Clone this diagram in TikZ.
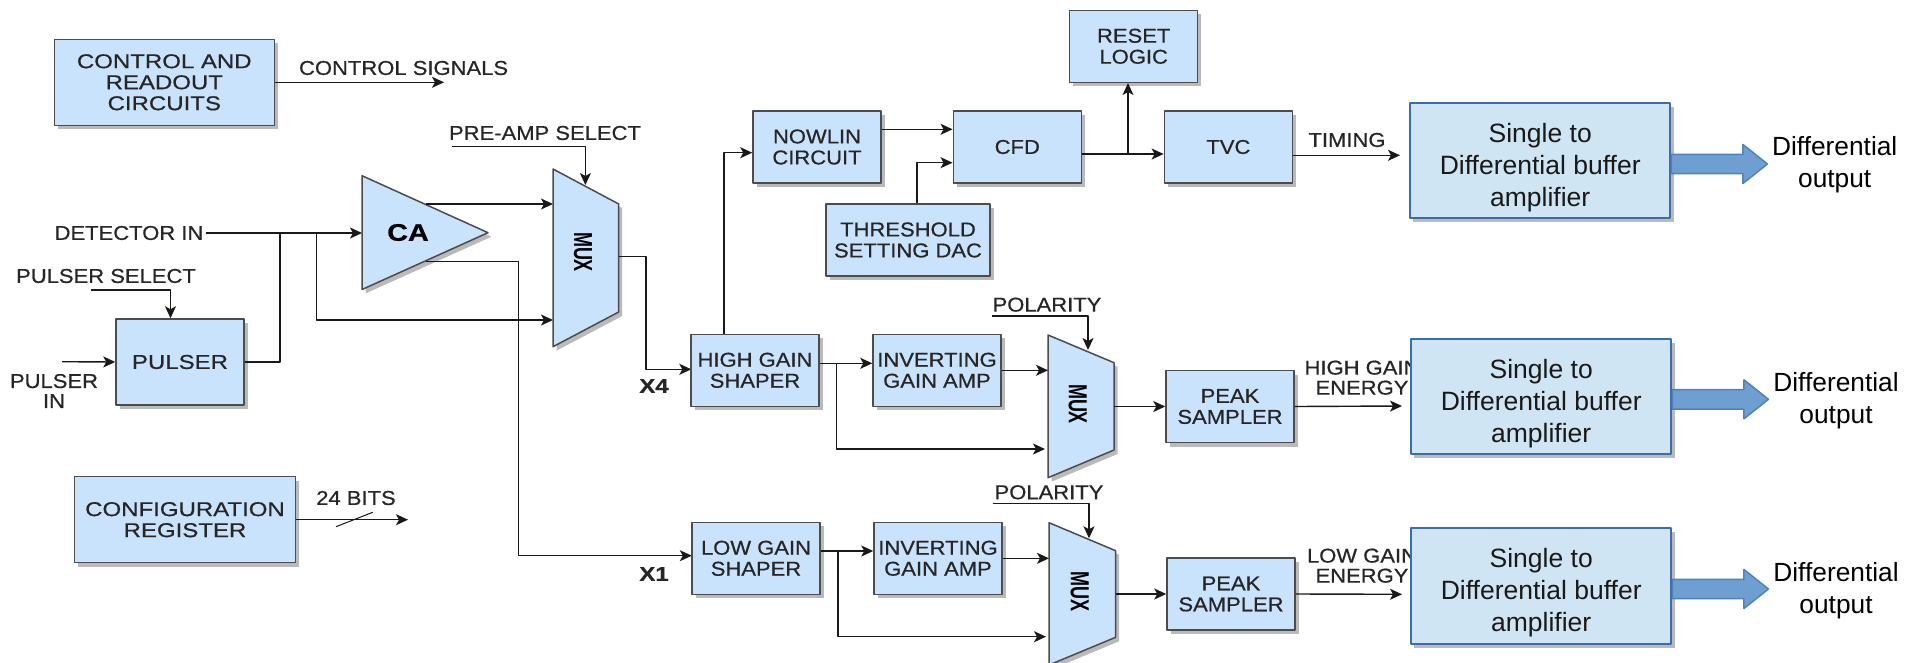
\documentclass[tikz,border=0pt]{standalone}
\usepackage{fontspec}
\usetikzlibrary{arrows.meta,shadows}
\setmainfont{Liberation Sans}
\newfontfamily\blockfont[FakeStretch=1.2,FakeBold=0.6]{Liberation Sans}
\newfontfamily\signalfont[FakeStretch=1.1,FakeBold=0.6]{Liberation Sans}
\definecolor{blockfill}{HTML}{C9E3FD}
\definecolor{bufferfill}{HTML}{CFE5F3}
\definecolor{bufferline}{HTML}{3A6CB0}
\definecolor{arrowfill}{HTML}{6F9FD0}
\definecolor{arrowline}{HTML}{4F81BD}
\definecolor{inktext}{HTML}{262626}
\tikzset{
	boxshadow/.style={drop shadow={shadow xshift=3.5pt,shadow yshift=-4pt,opacity=1,fill=black!27}},
	blockbox/.style={draw=black!70,line width=1.5pt,fill=blockfill,boxshadow,minimum width=128,minimum height=72,inner sep=0,align=center,text=inktext,font=\signalfont\fontsize{20}{21}\selectfont},
	widetext/.style={font=\blockfont\fontsize{20}{21}\selectfont},
	bufferbox/.style={draw=bufferline,line width=2pt,fill=bufferfill,boxshadow,minimum width=260.5,minimum height=115.5,inner sep=0},
	buffertext/.style={inner sep=0,align=center,text=black!90,font=\fontsize{26.5}{32}\selectfont},
	muxbody/.style={draw=black!70,line width=1.5pt,fill=blockfill,boxshadow,line join=round},
	muxtext/.style={rotate=-90,inner sep=0,text=black,font=\bfseries\fontsize{18}{18}\selectfont},
	siglabel/.style={inner sep=2pt,align=center,text=inktext,font=\signalfont\fontsize{20}{20}\selectfont},
	gainlabel/.style={inner sep=0,text=inktext,font=\bfseries\blockfont\fontsize{20}{20}\selectfont},
	outlabel/.style={inner sep=0,align=center,text=black,font=\fontsize{26.3}{32}\selectfont},
	bigarrow/.style={draw=arrowline,line width=1.5pt,fill=arrowfill},
	wire/.style={draw=black!90,line width=1.4pt}
}
\begin{document}
\begin{tikzpicture}[x=1pt,y=-1pt,>={Stealth[length=12pt,width=11pt,inset=3pt]},line join=round]
	\clip (0,0) rectangle (1907,662);
	% left column
	\node[blockbox,widetext,minimum width=220,minimum height=86] (ctrl) at (164.3,82.3) {CONTROL AND\\READOUT\\CIRCUITS};
	\node[siglabel] (ctrlsig) at (403.6,68) {CONTROL SIGNALS};
	\coordinate (ctrlend) at (444,82.3);
	\draw[wire,->] (ctrl.east) -- (ctrlend);
	\node[blockbox,widetext,minimum height=86] (pulser) at (180,362) {PULSER};
	\node[siglabel] (detin) at (129,233) {DETECTOR IN};
	\node[siglabel] (pulsesel) at (106,276) {PULSER SELECT};
	\node[siglabel] (pulsein) at (54,391) {PULSER\\IN};
	\coordinate (pselstart) at (90.5,290);
	\coordinate (pinstart) at (62,361.7);
	\draw[wire,->] (pselstart) -| (pulser.north -| 170.5,0);
	\draw[wire,->] (pinstart) -- (pulser.west);
	\node[blockbox,widetext,minimum width=220.6,minimum height=86] (config) at (185,519.7) {CONFIGURATION\\REGISTER};
	\node[siglabel] (bits) at (356,498) {24 BITS};
	\coordinate (bitsend) at (408,519.7);
	\draw[wire,->] (config.east) -- (bitsend);
	\draw[draw=black!90,line width=1pt] (336,526.7) -- (372.7,512.3);
	% charge amp and first mux
	\coordinate (catop) at (362,175.7);
	\coordinate (caapex) at (488,232.7);
	\coordinate (cabot) at (362,289.5);
	\draw[muxbody] (catop) -- (caapex) -- (cabot) -- cycle;
	\node[inner sep=0,text=black,font=\bfseries\blockfont\fontsize{24}{24}\selectfont] (ca) at (408,232.5) {CA};
	\foreach \mname/\xl/\xr/\ytl/\ytr/\ybtr/\ybtl in {muxa/553/618.7/169/204/312/346.7,muxb/1048/1114/335/362.7/450/477.7,muxc/1049/1115.6/522.7/550.7/637.3/665}
	{\draw[muxbody] (\xl,\ytl) -- (\xr,\ytr) -- (\xr,\ybtr) -- (\xl,\ybtl) -- cycle;
		\coordinate (\mname-w) at (\xl,\ytl);
		\coordinate (\mname-e) at (\xr,\ytr);}
	\node[muxtext] (muxatext) at (583,252) {\scalebox{1}[1.45]{MUX}};
	\node[muxtext] (muxbtext) at (1077.7,404) {\scalebox{1}[1.45]{MUX}};
	\node[muxtext] (muxctext) at (1079.8,591.7) {\scalebox{1}[1.45]{MUX}};
	\coordinate (jpulse) at (280,233);
	\coordinate (jmux) at (316.5,233);
	\coordinate (caouta) at (426,204);
	\coordinate (caoutb) at (426,261.7);
	\coordinate (xone) at (518.5,555.7);
	\coordinate (muxout) at (646,256.7);
	\node[siglabel] (presel) at (545,133) {PRE-AMP SELECT};
	\coordinate (preselstart) at (452.4,146.7);
	\coordinate (preselend) at (585.4,185);
	\draw[wire,->] (detin.east) -- (catop |- detin.east);
	\draw[wire] (pulser.east) -| (jpulse);
	\draw[wire,->] (jmux) |- (muxa-w |- 0,320);
	\draw[wire,->] (caouta) -- (muxa-w |- caouta);
	\draw[wire,->] (preselstart) -| (preselend);
	\draw[wire,->] (caoutb) -| (xone) -- (691.8,555.7);
	\draw[wire,->] (muxa-e |- muxout) -- (muxout) |- (691.3,369.3);
	\node[gainlabel] (xfour) at (654,386) {X4};
	\node[gainlabel] (xonetext) at (654,574) {X1};
	% timing branch
	\node[blockbox] (nowlin) at (817,147) {NOWLIN\\CIRCUIT};
	\node[blockbox] (cfd) at (1017.3,147) {CFD};
	\node[blockbox] (reset) at (1133.7,46.3) {RESET\\LOGIC};
	\node[blockbox] (tvc) at (1228.4,147) {TVC};
	\node[blockbox,minimum width=164] (thresh) at (908,240) {THRESHOLD\\SETTING DAC};
	\node[blockbox] (hgshaper) at (755,370.3) {HIGH GAIN\\SHAPER};
	\coordinate (jcfd) at (1128,154);
	\draw[wire,->] (nowlin.east |- 0,129.3) -- (cfd.west |- 0,129.3);
	\draw[wire,->] (917,0 |- thresh.north) |- (cfd.west |- 0,162.7);
	\draw[wire,->] (cfd.east |- jcfd) -- (tvc.west |- jcfd);
	\draw[wire,->] (jcfd) -- (jcfd |- reset.south);
	\draw[wire,->] (723.8,0 |- hgshaper.north) |- (nowlin.west |- 0,152.7);
	\node[siglabel] (timing) at (1347,140) {TIMING};
	\coordinate (timingend) at (1400,155.3);
	\draw[wire,->] (tvc.east |- timingend) -- (timingend);
	% high gain branch
	\node[blockbox] (invhi) at (937,370.3) {INVERTING\\GAIN AMP};
	\node[blockbox] (peakhi) at (1230,406.5) {PEAK\\SAMPLER};
	\node[siglabel] (polhi) at (1047,304.7) {POLARITY};
	\coordinate (polhistart) at (992,316);
	\coordinate (polhiend) at (1088,350);
	\coordinate (jhi) at (836.5,363.3);
	\coordinate (energyhi) at (1402,406);
	\draw[wire,->] (polhistart) -| (polhiend);
	\draw[wire,->] (hgshaper.east |- jhi) -- (invhi.west |- jhi);
	\draw[wire,->,shorten >=3pt] (jhi) |- (muxb-w |- 0,449);
	\draw[wire,->] (invhi.east) -- (muxb-w |- invhi.east);
	\draw[wire,->] (muxb-e |- peakhi.west) -- (peakhi.west);
	\draw[wire,->] (peakhi.east) -- (energyhi);
	% low gain branch
	\node[blockbox] (lgshaper) at (756,558.3) {LOW GAIN\\SHAPER};
	\node[blockbox] (invlo) at (938,558.3) {INVERTING\\GAIN AMP};
	\node[blockbox] (peaklo) at (1231,594) {PEAK\\SAMPLER};
	\node[siglabel] (pollo) at (1049,492.3) {POLARITY};
	\coordinate (pollostart) at (992.7,503.7);
	\coordinate (polloend) at (1089,538.3);
	\coordinate (jlo) at (837.8,551);
	\coordinate (energylo) at (1402,594.3);
	\draw[wire,->] (pollostart) -| (polloend);
	\draw[wire,->] (lgshaper.east |- jlo) -- (invlo.west |- jlo);
	\draw[wire,->,shorten >=3pt] (jlo) |- (muxc-w |- 0,636.7);
	\draw[wire,->] (invlo.east) -- (muxc-w |- invlo.east);
	\draw[wire,->] (muxc-e |- peaklo.west) -- (peaklo.west);
	\draw[wire,->] (peaklo.east) -- (energylo);
	% labels run under the buffers, so these come last
	\node[siglabel] (gainhi) at (1362,377.7) {HIGH GAIN\\ENERGY};
	\node[siglabel] (gainlo) at (1362,565.7) {LOW GAIN\\ENERGY};
	\node[bufferbox] (buffa) at (1540.2,160.5) {};
	\node[bufferbox] (buffb) at (1541.2,396.4) {};
	\node[bufferbox] (buffc) at (1541.2,585.8) {};
	\node[buffertext] (buffatext) at (1540.2,168) {Single to\\Differential buffer\\amplifier};
	\node[buffertext] (buffbtext) at (1541.2,403.7) {Single to\\Differential buffer\\amplifier};
	\node[buffertext] (buffctext) at (1541.2,593) {Single to\\Differential buffer\\amplifier};
	\foreach \bname/\by in {buffa/164,buffb/399.3,buffc/589}
	{\draw[bigarrow] (\bname.east |- 0,\by) ++(0,-9.7) -- ++(71.5,0) -- ++(0,-9.8) -- ++(24.5,19.5) -- ++(-24.5,19.5) -- ++(0,-9.8) -- ++(-71.5,0) -- cycle;}
	\node[outlabel] (outa) at (1834.7,164.5) {Differential\\output};
	\node[outlabel] (outb) at (1836,400.8) {Differential\\output};
	\node[outlabel] (outc) at (1836,590.2) {Differential\\output};
\end{tikzpicture}
\end{document}
